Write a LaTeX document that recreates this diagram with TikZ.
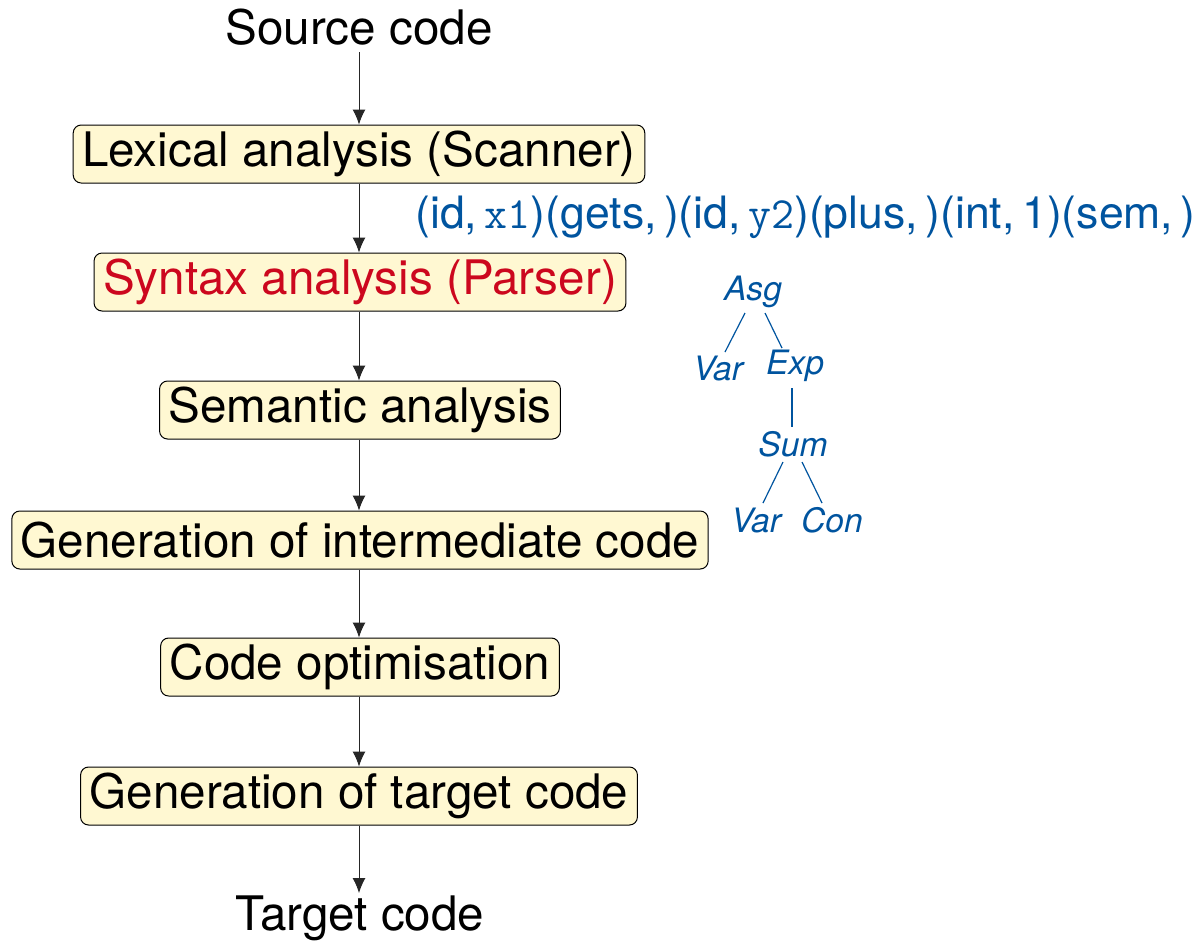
\documentclass[tikz,border=0pt]{standalone}
\usepackage{fontspec}
\setmainfont{TeX Gyre Heros}
\setsansfont{TeX Gyre Heros}
\usetikzlibrary{arrows.meta}
\definecolor{myblue}{HTML}{00549F}
\definecolor{myred}{HTML}{CC071E}
\definecolor{myfill}{HTML}{FFF8D2}
\tikzset{
  phase/.style={draw=black, fill=myfill, rounded corners=4pt, line width=0.5pt,
    inner xsep=4.5pt, inner ysep=0pt, minimum height=29pt,
    font=\fontsize{23.8}{28}\selectfont},
  endtext/.style={inner sep=0pt, font=\fontsize{23.8}{28}\selectfont},
  flow/.style={draw=black!85, line width=0.5pt, -{Latex[length=7.5pt,width=6.5pt]}},
  tok/.style={inner sep=0pt, text=myblue, font=\fontsize{22.3}{26}\selectfont},
  tnode/.style={inner sep=1pt, text=myblue, font=\fontsize{16.8}{20}\selectfont\itshape},
  tedge/.style={draw=myblue, line width=0.6pt}
}
\newcommand{\tokcode}[1]{{\ttfamily #1}}
\begin{document}
\begin{tikzpicture}[x=0.5pt, y=-0.5pt]
\useasboundingbox (0,0) rectangle (1197,944);
\node[endtext] (src) at (359,27) {Source code};
\node[phase] (lex) at (359,154) {Lexical analysis (Scanner)};
\node[phase, text=myred] (syn) at (360,282) {Syntax analysis (Parser)};
\node[phase] (sem) at (360,410) {Semantic analysis};
\node[phase] (gen) at (360,540) {Generation of intermediate code};
\node[phase] (opt) at (360,667) {Code optimisation};
\node[phase] (tgt) at (359,796) {Generation of target code};
\node[endtext] (out) at (360,918) {Target code};
\coordinate (s0) at (359,52);
\coordinate (tend) at (359,893);

\draw[flow] (s0) -- (lex.north -| s0);
\draw[flow] (lex.south -| s0) -- (syn.north -| s0);
\draw[flow] (syn.south -| s0) -- (sem.north -| s0);
\draw[flow] (sem.south -| s0) -- (gen.north -| s0);
\draw[flow] (gen.south -| s0) -- (opt.north -| s0);
\draw[flow] (opt.south -| s0) -- (tgt.north -| s0);
\draw[flow] (tgt.south -| s0) -- (tend);

\node[tok, anchor=west] (tokens) at (415,217)
  {(id,\,\tokcode{x1})(gets,\,)(id,\,\tokcode{y2})(plus,\,)(int,\,1)(sem,\,)};

\node[tnode] (asg) at (753,292) {Asg};
\node[tnode] (var1) at (718,368) {Var};
\node[tnode] (exp) at (795,366) {Exp};
\node[tnode] (sum) at (793,444) {Sum};
\node[tnode] (var2) at (756,520) {Var};
\node[tnode] (con) at (832,520) {Con};
\draw[tedge] (745,313) -- (725,352);
\draw[tedge] (765,313) -- (782,348);
\draw[tedge] (792,388) -- (792,427);
\draw[tedge] (783,462) -- (763,503);
\draw[tedge] (802,462) -- (822,503);
\end{tikzpicture}
\end{document}
